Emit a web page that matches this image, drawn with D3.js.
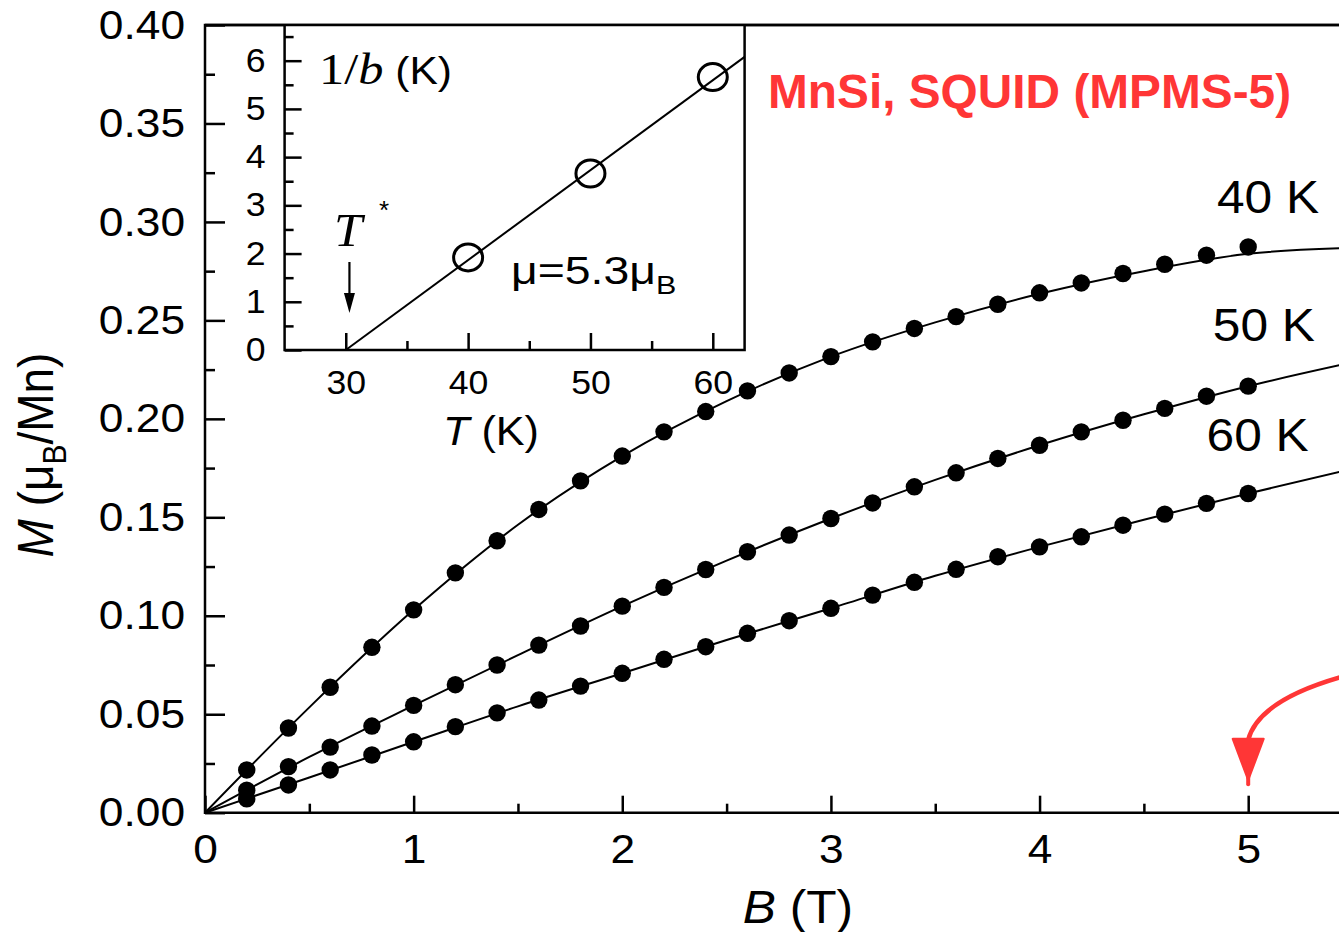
<!DOCTYPE html>
<html>
<head>
<meta charset="utf-8">
<script src="https://cdn.jsdelivr.net/npm/d3@7"></script>
<style>
body { margin: 0; background: #fff; }
svg { display: block; }
</style>
</head>
<body>
<div class="container"></div>
<script>
// measured magnetisation M (muB/Mn) vs field B (T)
const fieldB = [0.2, 0.4, 0.6, 0.8, 1.0, 1.2, 1.4, 1.6, 1.8, 2.0, 2.2, 2.4, 2.6,
    2.8, 3.0, 3.2, 3.4, 3.6, 3.8, 4.0, 4.2, 4.4, 4.6, 4.8, 5.0];
const m40 = [0.0217, 0.0430, 0.0637, 0.0840, 0.1030, 0.1218, 0.1381, 0.1540, 0.1685,
    0.1811, 0.1934, 0.2037, 0.2142, 0.2233, 0.2316, 0.2391, 0.2459, 0.2519, 0.2582,
    0.2640, 0.2690, 0.2738, 0.2785, 0.2831, 0.2873];
const m50 = [0.0114, 0.0234, 0.0333, 0.0440, 0.0545, 0.0650, 0.0750, 0.0851, 0.0948,
    0.1049, 0.1144, 0.1235, 0.1325, 0.1410, 0.1494, 0.1573, 0.1655, 0.1726, 0.1799,
    0.1866, 0.1934, 0.1993, 0.2053, 0.2115, 0.2166];
const m60 = [0.0070, 0.0141, 0.0217, 0.0293, 0.0360, 0.0437, 0.0507, 0.0572, 0.0643,
    0.0708, 0.0779, 0.0843, 0.0911, 0.0975, 0.1038, 0.1105, 0.1170, 0.1236, 0.1300,
    0.1350, 0.1401, 0.1460, 0.1516, 0.1571, 0.1621];

// fitted curves
const fitB = [0, 0.5, 1.0, 1.5, 2.0, 2.5, 3.0, 3.5, 4.0, 4.5, 5.0, 5.44];
const fit40 = [0, 0.0535, 0.1030, 0.1462, 0.1811, 0.2090, 0.2316, 0.2490, 0.2635, 0.2750, 0.2838, 0.2866];
const fit50 = [0, 0.0283, 0.0545, 0.0800, 0.1049, 0.1280, 0.1494, 0.1690, 0.1866, 0.2023, 0.2166, 0.2273];
const fit60 = [0, 0.0179, 0.0360, 0.0540, 0.0708, 0.0877, 0.1038, 0.1203, 0.1350, 0.1488, 0.1621, 0.1731];

const seriesNames = ['40 K', '50 K', '60 K'];

const xMajor = [0, 1, 2, 3, 4, 5];
const xMinor = [0.5, 1.5, 2.5, 3.5, 4.5, 5.5];
const yMajor = [0, 0.05, 0.10, 0.15, 0.20, 0.25, 0.30, 0.35, 0.40];
const yMinor = [0.025, 0.075, 0.125, 0.175, 0.225, 0.275, 0.325, 0.375];

// inset: 1/b vs T
const insetT = [40, 50, 60];
const insetInvB = [1.92, 3.66, 5.66];
const insetFitT = [30, 62.6];
const insetFitInvB = [0, 6.08];
const insetXMajor = [30, 40, 50, 60];
const insetXMinor = [35, 45, 55];
const insetYMajor = [0, 1, 2, 3, 4, 5, 6];
const insetYMinor = [0.5, 1.5, 2.5, 3.5, 4.5, 5.5, 6.5];

const W = 1339, H = 932;
const SANS = '"Liberation Sans", Arial, Helvetica, sans-serif';
const SERIF = '"Liberation Serif", "Times New Roman", serif';
const SX = 1.08; // the figure is slightly stretched sideways
const RED = '#ff3636';

const svg = d3.select('.container').append('svg')
    .attr('width', W).attr('height', H)
    .style('font-family', SANS);

const x = d3.scaleLinear().domain([0, 5.44]).range([205, 1340]);
const y = d3.scaleLinear().domain([0, 0.40]).range([812.7, 25]);

function drawAxis(g, axis, textSize) {
    g.call(axis);
    g.select('.domain').remove();
    g.selectAll('.tick line').attr('stroke', '#000').attr('stroke-width', 2.5);
    g.selectAll('.tick text')
        .attr('fill', '#000')
        .style('font-size', textSize + 'px')
        .attr('transform', `scale(${SX},1)`);
}

// main axes
drawAxis(svg.append('g').attr('transform', `translate(0,${y(0)})`),
    d3.axisBottom(x).tickValues(xMajor).tickSize(-17).tickPadding(21).tickFormat(d3.format('d')), 41);
drawAxis(svg.append('g').attr('transform', `translate(0,${y(0)})`),
    d3.axisBottom(x).tickValues(xMinor).tickSize(-9).tickFormat(''), 41);
drawAxis(svg.append('g').attr('transform', `translate(${x(0)},0)`),
    d3.axisLeft(y).tickValues(yMajor).tickSize(-20).tickPadding(20 / SX).tickFormat(d3.format('.2f')), 41);
drawAxis(svg.append('g').attr('transform', `translate(${x(0)},0)`),
    d3.axisLeft(y).tickValues(yMinor).tickSize(-10).tickFormat(''), 41);

// frame (right side runs past the picture edge)
svg.append('path')
    .attr('d', `M${x(5.6)},${y(0.40)}H${x(0)}V${y(0)}H${x(5.6)}`)
    .attr('fill', 'none').attr('stroke', '#000').attr('stroke-width', 2.5);

// fitted lines
const series = [
    { name: seriesNames[0], m: m40, fit: fit40 },
    { name: seriesNames[1], m: m50, fit: fit50 },
    { name: seriesNames[2], m: m60, fit: fit60 },
];
const line = d3.line().x(d => x(d[0])).y(d => y(d[1])).curve(d3.curveMonotoneX);
svg.append('g').selectAll('path')
    .data(series)
    .join('path')
    .attr('d', s => line(fitB.map((b, i) => [b, s.fit[i]])))
    .attr('fill', 'none').attr('stroke', '#000').attr('stroke-width', 2);

svg.append('g').selectAll('g')
    .data(series)
    .join('g')
    .selectAll('circle')
    .data(s => fieldB.map((b, i) => [b, s.m[i]]))
    .join('circle')
    .attr('cx', d => x(d[0]))
    .attr('cy', d => y(d[1]))
    .attr('r', 8.7)
    .attr('fill', '#000');

// series labels
const labelPos = [[5.34, 0.3046], [5.32, 0.2395], [5.29, 0.1838]];
svg.append('g').selectAll('text')
    .data(series)
    .join('text')
    .attr('transform', (s, i) => `translate(${x(labelPos[i][0])},${y(labelPos[i][1])}) scale(${SX},1)`)
    .attr('text-anchor', 'end')
    .style('font-size', '46px')
    .text(s => s.name);

// axis titles
svg.append('text')
    .attr('transform', `translate(798,923) scale(${SX},1)`)
    .attr('text-anchor', 'middle')
    .style('font-size', '46px')
    .call(t => {
        t.append('tspan').style('font-style', 'italic').text('B');
        t.append('tspan').text(' (T)');
    });

svg.append('text')
    .attr('transform', `translate(53,455) rotate(-90) scale(1,${SX})`)
    .attr('text-anchor', 'middle')
    .style('font-size', '46px')
    .call(t => {
        t.append('tspan').style('font-style', 'italic').text('M');
        t.append('tspan').text(' (μ');
        t.append('tspan').attr('dy', 12).style('font-size', '30px').text('B');
        t.append('tspan').attr('dy', -12).text('/Mn)');
    });

// red note and arrow
svg.append('text')
    .attr('x', 768).attr('y', 108)
    .attr('fill', RED)
    .style('font-size', '47.8px').style('font-weight', 'bold')
    .text('MnSi, SQUID (MPMS-5)');

svg.append('path')
    .attr('d', `M${x(5.45)},${y(0.0690)} Q${x(5.05)},${y(0.0570)} ${x(5.0)},${y(0.0370)}`)
    .attr('fill', 'none').attr('stroke', RED).attr('stroke-width', 4.5).attr('stroke-linecap', 'round');
svg.append('path')
    .attr('d', `M${x(5.0) - 15.5},${y(0.0375)}L${x(5.0) + 15.5},${y(0.0375)}L${x(5.0)},${y(0.0165)}Z`)
    .attr('fill', RED).attr('stroke', RED).attr('stroke-width', 2).attr('stroke-linejoin', 'round');
svg.append('line')
    .attr('x1', x(5.0)).attr('x2', x(5.0))
    .attr('y1', y(0.025)).attr('y2', y(0.0145))
    .attr('stroke', RED).attr('stroke-width', 4).attr('stroke-linecap', 'round');

// ---- inset ----
const xi = d3.scaleLinear().domain([25, 62.6]).range([284.6, 744.6]);
const yi = d3.scaleLinear().domain([0, 6.74]).range([350, 25]);

svg.append('rect')
    .attr('x', xi(25)).attr('y', yi(6.74))
    .attr('width', xi(62.6) - xi(25)).attr('height', yi(0) - yi(6.74))
    .attr('fill', '#fff');

drawAxis(svg.append('g').attr('transform', `translate(0,${yi(0)})`),
    d3.axisBottom(xi).tickValues(insetXMajor).tickSize(-17).tickPadding(21).tickFormat(d3.format('d')), 33);
drawAxis(svg.append('g').attr('transform', `translate(0,${yi(0)})`),
    d3.axisBottom(xi).tickValues(insetXMinor).tickSize(-9).tickFormat(''), 33);
drawAxis(svg.append('g').attr('transform', `translate(${xi(25)},0)`),
    d3.axisLeft(yi).tickValues(insetYMajor).tickSize(-17).tickPadding(19 / SX).tickFormat(d3.format('d')), 33);
drawAxis(svg.append('g').attr('transform', `translate(${xi(25)},0)`),
    d3.axisLeft(yi).tickValues(insetYMinor).tickSize(-9).tickFormat(''), 33);

svg.append('path')
    .attr('d', `M${xi(25)},${yi(6.74)}V${yi(0)}H${xi(62.6)}V${yi(6.74)}`)
    .attr('fill', 'none').attr('stroke', '#000').attr('stroke-width', 2.5);
// redraw the shared top border over the white box
svg.append('line')
    .attr('x1', x(0)).attr('x2', W)
    .attr('y1', y(0.40)).attr('y2', y(0.40))
    .attr('stroke', '#000').attr('stroke-width', 2.5);

svg.append('path')
    .attr('d', d3.line().x(d => xi(d[0])).y(d => yi(d[1]))(insetFitT.map((t, i) => [t, insetFitInvB[i]])))
    .attr('fill', 'none').attr('stroke', '#000').attr('stroke-width', 2);

svg.append('g').selectAll('ellipse')
    .data(insetT.map((t, i) => [t, insetInvB[i]]))
    .join('ellipse')
    .attr('cx', d => xi(d[0]))
    .attr('cy', d => yi(d[1]))
    .attr('rx', 14.5).attr('ry', 13.5)
    .attr('fill', 'none').attr('stroke', '#000').attr('stroke-width', 3);

// inset labels
svg.append('text')
    .attr('transform', `translate(319,84) scale(1.12,1)`)
    .call(t => {
        t.append('tspan').style('font-family', SERIF).style('font-size', '45px').text('1/');
        t.append('tspan').style('font-family', SERIF).style('font-style', 'italic').style('font-size', '45px').text('b');
        t.append('tspan').style('font-size', '38px').text(' (K)');
    });

svg.append('text')
    .attr('transform', `translate(491,445) scale(${SX},1)`)
    .attr('text-anchor', 'middle')
    .style('font-size', '40px')
    .call(t => {
        t.append('tspan').style('font-style', 'italic').text('T');
        t.append('tspan').text(' (K)');
    });

svg.append('text')
    .attr('transform', `translate(334,246) scale(${SX},1)`)
    .style('font-family', SERIF).style('font-style', 'italic').style('font-size', '47px')
    .text('T');
svg.append('text')
    .attr('transform', `translate(379,219)`)
    .style('font-size', '26px')
    .text('*');

const arrowX = xi(30.3);
svg.append('line')
    .attr('x1', arrowX).attr('x2', arrowX)
    .attr('y1', 262).attr('y2', 298)
    .attr('stroke', '#000').attr('stroke-width', 2.2);
svg.append('path')
    .attr('d', `M${arrowX - 5.5},293L${arrowX + 5.5},293L${arrowX},313Z`)
    .attr('fill', '#000');

svg.append('text')
    .attr('transform', `translate(511,284) scale(1.22,1)`)
    .style('font-size', '38px')
    .call(t => {
        t.append('tspan').text('μ=5.3μ');
        t.append('tspan').attr('dy', 10).style('font-size', '25px').text('B');
    });
</script>
</body>
</html>
